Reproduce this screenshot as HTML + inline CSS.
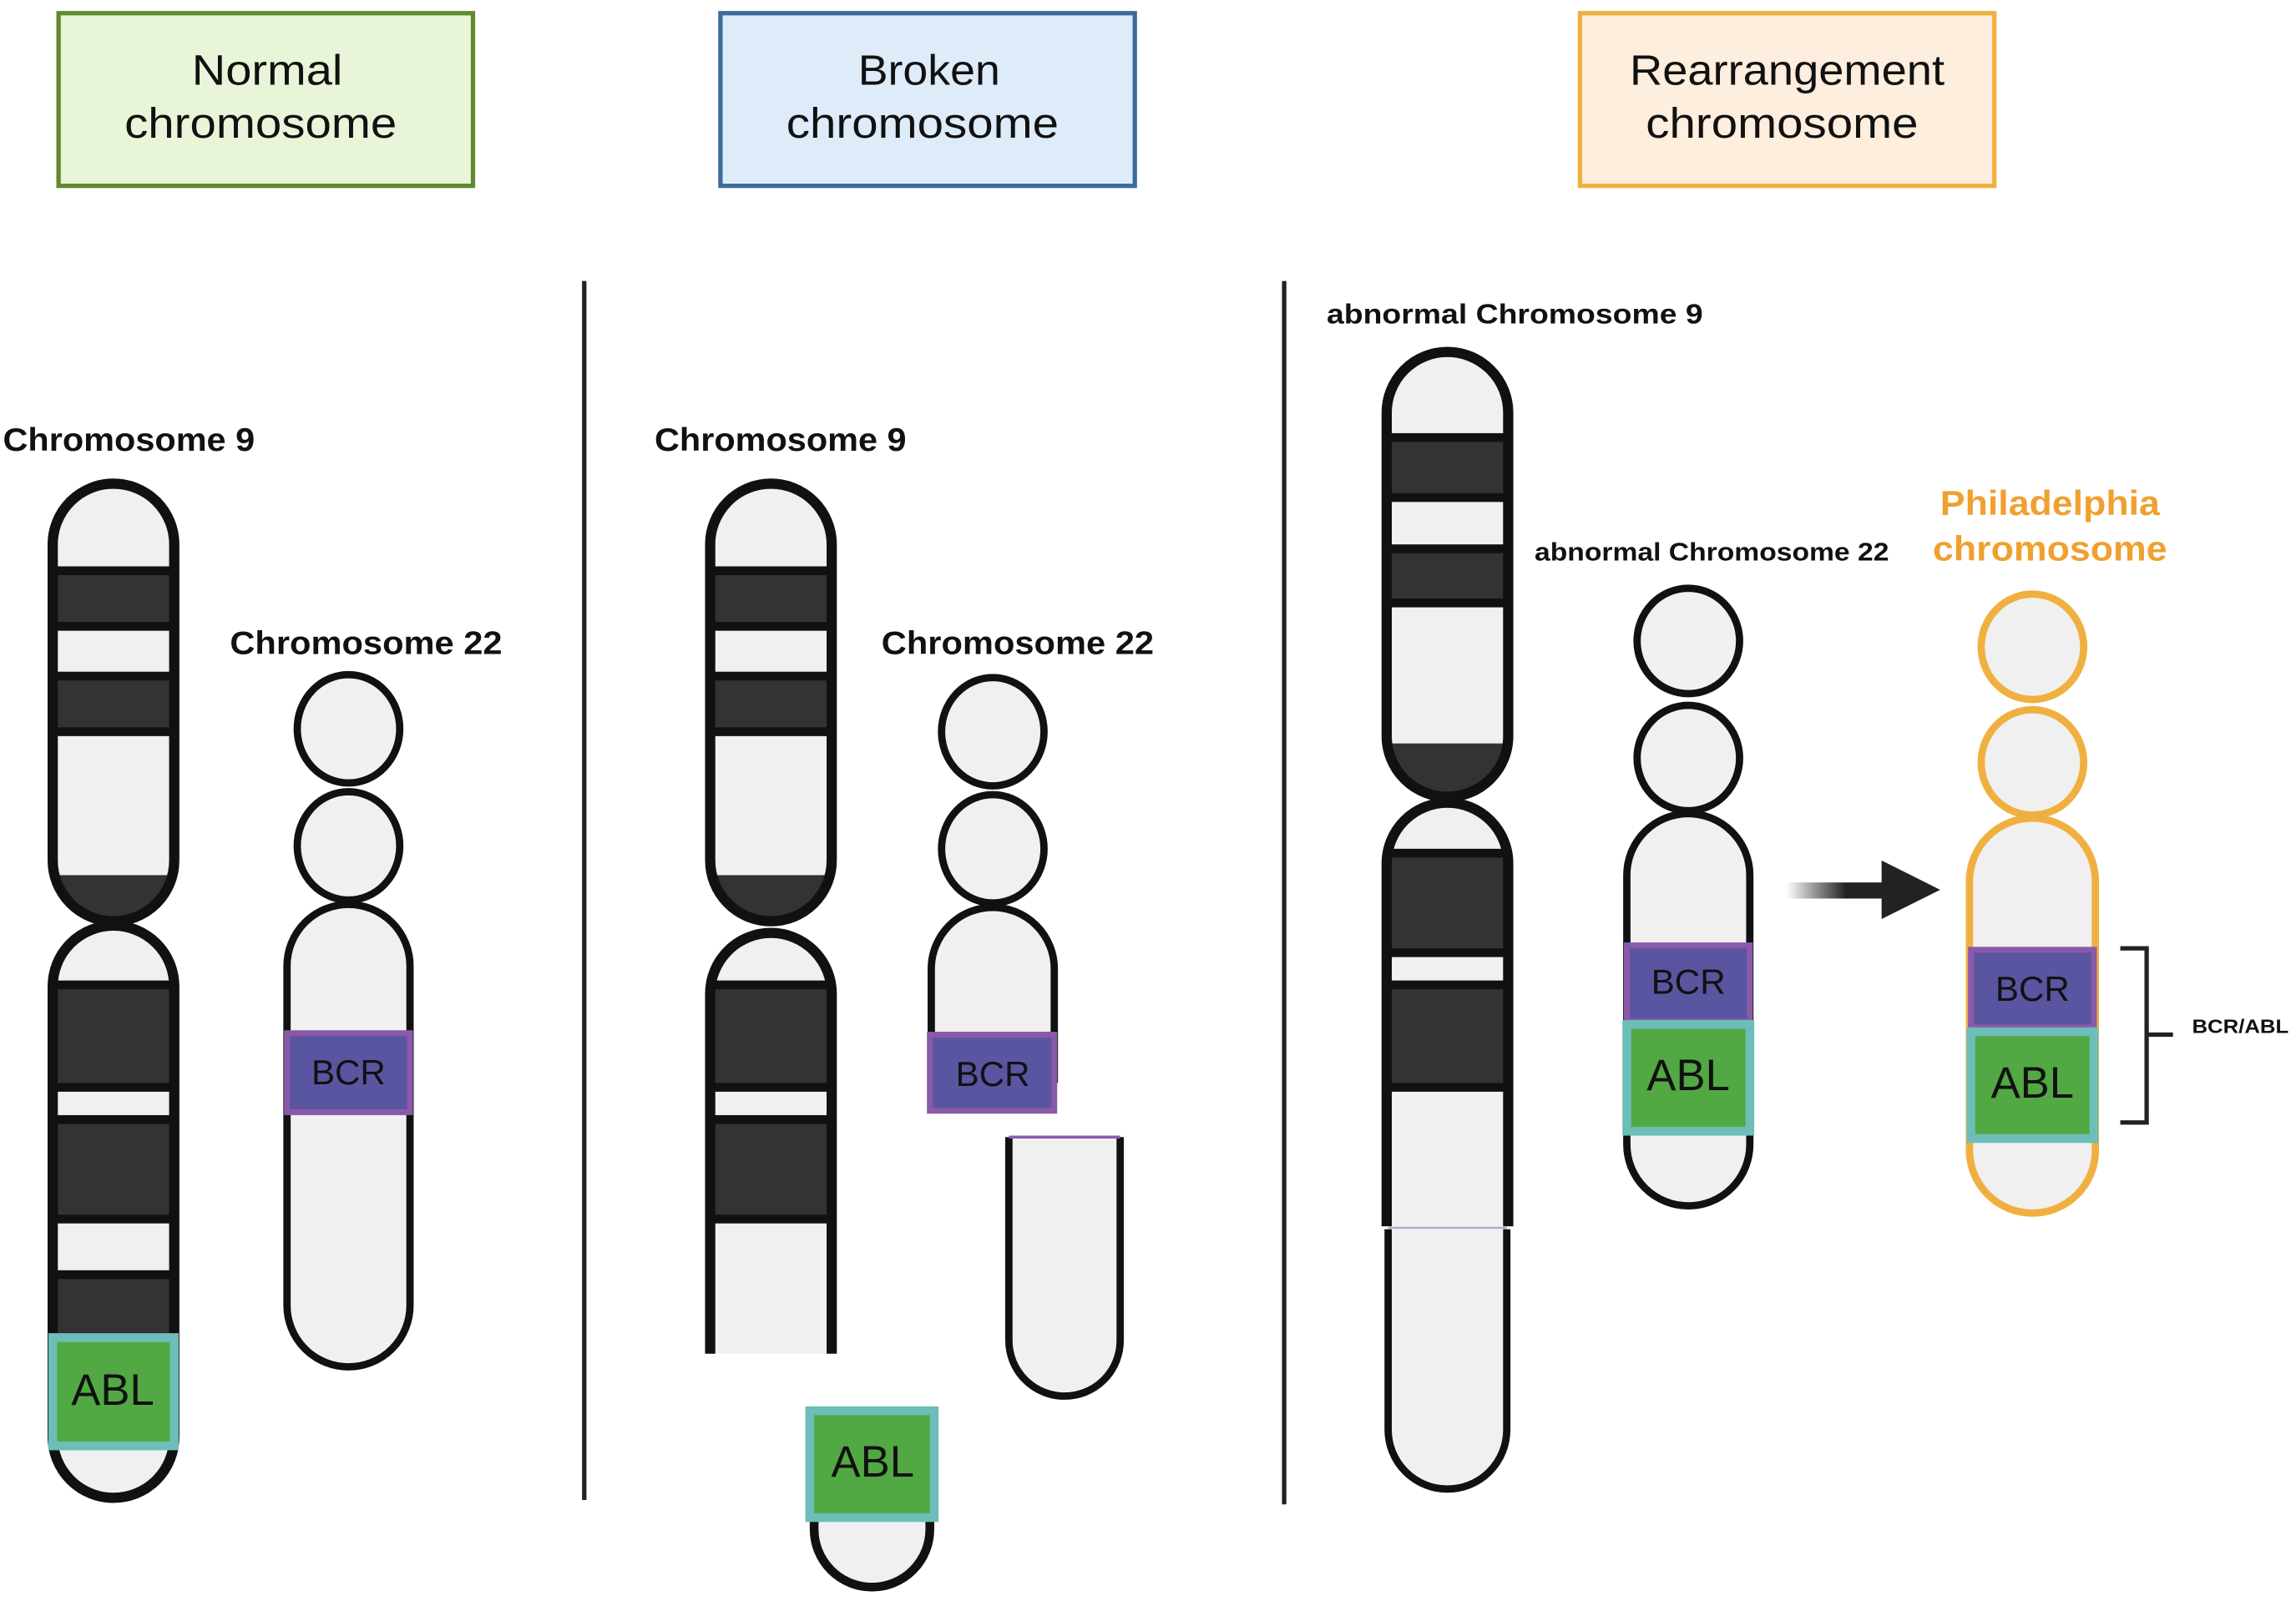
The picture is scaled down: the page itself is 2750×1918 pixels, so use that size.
<!DOCTYPE html>
<html><head><meta charset="utf-8"><style>
html,body{margin:0;padding:0;background:#fff;}
svg{display:block;}
text{font-family:"Liberation Sans",sans-serif;}
</style></head><body>
<svg width="2750" height="1918" viewBox="0 0 1568 1094" preserveAspectRatio="none" xmlns="http://www.w3.org/2000/svg">
<defs>
<linearGradient id="ag" x1="0" x2="1"><stop offset="0" stop-color="#222" stop-opacity="0"/><stop offset="0.6" stop-color="#222"/></linearGradient>
<clipPath id="c1"><path d="M36,372 A41.5,41.5 0 0 1 119,372 L119,588 A41.5,41.5 0 0 1 36,588 Z"/></clipPath>
<clipPath id="c2"><path d="M36,674 A41.5,41.5 0 0 1 119,674 L119,982 A41.5,41.5 0 0 1 36,982 Z"/></clipPath>
<clipPath id="c3"><path d="M485,372 A41.5,41.5 0 0 1 568,372 L568,588 A41.5,41.5 0 0 1 485,588 Z"/></clipPath>
<clipPath id="c4"><path d="M485,679 A41.5,41.5 0 0 1 568,679 L568,925 L485,925 Z"/></clipPath>
<clipPath id="c5"><path d="M947,282 A41.5,41.5 0 0 1 1030,282 L1030,503 A41.5,41.5 0 0 1 947,503 Z"/></clipPath>
<clipPath id="c6"><path d="M947,590 A41.5,41.5 0 0 1 1030,590 L1030,838 L947,838 Z"/></clipPath>
</defs>
<g stroke-width="3">
<rect x="40" y="9" width="283" height="118" fill="#e9f5d9" stroke="#5f8a2e"/>
<rect x="492" y="9" width="283" height="118" fill="#deebf8" stroke="#3d6a9c"/>
<rect x="1079" y="9" width="283" height="118" fill="#fdeedd" stroke="#f0b040"/>
</g>
<g font-size="29" fill="#111" lengthAdjust="spacingAndGlyphs">
<text x="131" y="58" textLength="103" lengthAdjust="spacingAndGlyphs">Normal</text><text x="85" y="94" textLength="186" lengthAdjust="spacingAndGlyphs">chromosome</text>
<text x="586" y="58" textLength="97" lengthAdjust="spacingAndGlyphs">Broken</text><text x="537" y="94" textLength="186" lengthAdjust="spacingAndGlyphs">chromosome</text>
<text x="1113" y="58" textLength="215" lengthAdjust="spacingAndGlyphs">Rearrangement</text><text x="1124" y="94" textLength="186" lengthAdjust="spacingAndGlyphs">chromosome</text>
</g>
<line x1="399" y1="192" x2="399" y2="1025" stroke="#222" stroke-width="3"/>
<line x1="877" y1="192" x2="877" y2="1028" stroke="#222" stroke-width="3"/>
<g font-weight="bold" fill="#111">
<text x="2" y="308" font-size="22" textLength="172" lengthAdjust="spacingAndGlyphs">Chromosome 9</text>
<text x="157" y="447" font-size="22" textLength="186" lengthAdjust="spacingAndGlyphs">Chromosome 22</text>
<text x="447" y="308" font-size="22" textLength="172" lengthAdjust="spacingAndGlyphs">Chromosome 9</text>
<text x="602" y="447" font-size="22" textLength="186" lengthAdjust="spacingAndGlyphs">Chromosome 22</text>
<text x="906" y="221" font-size="19" textLength="257" lengthAdjust="spacingAndGlyphs">abnormal Chromosome 9</text>
<text x="1048" y="383" font-size="17.5" textLength="242" lengthAdjust="spacingAndGlyphs">abnormal Chromosome 22</text>
<text x="1497" y="706" font-size="13" textLength="66" lengthAdjust="spacingAndGlyphs">BCR/ABL</text>
</g>
<g font-weight="bold" fill="#f0a030" font-size="24">
<text x="1325" y="352" textLength="150" lengthAdjust="spacingAndGlyphs">Philadelphia</text><text x="1320" y="383" textLength="160" lengthAdjust="spacingAndGlyphs">chromosome</text>
</g>

<!-- normal chr9 -->
<g clip-path="url(#c1)">
<rect x="30" y="320" width="100" height="320" fill="#f0f0f0"/>
<rect x="30" y="390" width="100" height="38" fill="#333" stroke="#111" stroke-width="6"/>
<rect x="30" y="462" width="100" height="38" fill="#333" stroke="#111" stroke-width="6"/>
<rect x="30" y="598" width="100" height="40" fill="#333"/>
</g>
<path d="M36,372 A41.5,41.5 0 0 1 119,372 L119,588 A41.5,41.5 0 0 1 36,588 Z" fill="none" stroke="#111" stroke-width="7"/>
<g clip-path="url(#c2)">
<rect x="30" y="625" width="100" height="410" fill="#f0f0f0"/>
<rect x="30" y="673" width="100" height="70" fill="#333" stroke="#111" stroke-width="6"/>
<rect x="30" y="765" width="100" height="68" fill="#333" stroke="#111" stroke-width="6"/>
<rect x="30" y="871" width="100" height="44" fill="#333" stroke="#111" stroke-width="6"/>
</g>
<path d="M36,674 A41.5,41.5 0 0 1 119,674 L119,982 A41.5,41.5 0 0 1 36,982 Z" fill="none" stroke="#111" stroke-width="7"/>
<rect x="36" y="914" width="83" height="74" fill="#52a843" stroke="#6dbdb8" stroke-width="6"/>
<text x="77" y="960" font-size="30" text-anchor="middle" fill="#111">ABL</text>

<!-- normal chr22 -->
<g fill="#f0f0f0" stroke="#111" stroke-width="5">
<ellipse cx="238" cy="498" rx="35" ry="37"/>
<ellipse cx="238" cy="578" rx="35" ry="37"/>
<path d="M196,660 A42,42 0 0 1 280,660 L280,892 A42,42 0 0 1 196,892 Z"/>
</g>
<rect x="196" y="706" width="84" height="54" fill="#5a55a0" stroke="#8a5aa8" stroke-width="4"/>
<text x="238" y="741" font-size="24" text-anchor="middle" fill="#111">BCR</text>

<!-- broken chr9 -->
<g clip-path="url(#c3)">
<rect x="480" y="320" width="100" height="320" fill="#f0f0f0"/>
<rect x="480" y="390" width="100" height="38" fill="#333" stroke="#111" stroke-width="6"/>
<rect x="480" y="462" width="100" height="38" fill="#333" stroke="#111" stroke-width="6"/>
<rect x="480" y="598" width="100" height="40" fill="#333"/>
</g>
<path d="M485,372 A41.5,41.5 0 0 1 568,372 L568,588 A41.5,41.5 0 0 1 485,588 Z" fill="none" stroke="#111" stroke-width="7"/>
<g clip-path="url(#c4)">
<rect x="480" y="630" width="100" height="300" fill="#f0f0f0"/>
<rect x="480" y="673" width="100" height="70" fill="#333" stroke="#111" stroke-width="6"/>
<rect x="480" y="765" width="100" height="68" fill="#333" stroke="#111" stroke-width="6"/>
</g>
<path d="M485,925 L485,679 A41.5,41.5 0 0 1 568,679 L568,925" fill="none" stroke="#111" stroke-width="7"/>
<!-- ABL fragment -->
<path d="M556,1000 L556,1045 A39.5,39.5 0 0 0 635,1045 L635,1000 Z" fill="#f0f0f0" stroke="#111" stroke-width="6"/>
<rect x="553" y="964" width="85" height="73" fill="#52a843" stroke="#6dbdb8" stroke-width="6"/>
<text x="596" y="1009" font-size="30" text-anchor="middle" fill="#111">ABL</text>
<!-- broken chr22 -->
<g fill="#f0f0f0" stroke="#111" stroke-width="5">
<ellipse cx="678" cy="500" rx="35" ry="37"/>
<ellipse cx="678" cy="580" rx="35" ry="37"/>
<path d="M636,740 L636,662 A42,42 0 0 1 720,662 L720,740"/>
<path d="M689,777 L689,916 A38,38 0 0 0 765,916 L765,777"/>
</g>
<line x1="689" y1="777" x2="765" y2="777" stroke="#8a5aa8" stroke-width="2"/>
<rect x="635" y="707" width="85" height="52" fill="#5a55a0" stroke="#8a5aa8" stroke-width="4"/>
<text x="678" y="742" font-size="24" text-anchor="middle" fill="#111">BCR</text>

<!-- abnormal chr9 -->
<g clip-path="url(#c5)">
<rect x="940" y="230" width="100" height="320" fill="#f0f0f0"/>
<rect x="940" y="299" width="100" height="41" fill="#333" stroke="#111" stroke-width="6"/>
<rect x="940" y="375" width="100" height="37" fill="#333" stroke="#111" stroke-width="6"/>
<rect x="940" y="508" width="100" height="40" fill="#333"/>
</g>
<path d="M947,282 A41.5,41.5 0 0 1 1030,282 L1030,503 A41.5,41.5 0 0 1 947,503 Z" fill="none" stroke="#111" stroke-width="7"/>
<g clip-path="url(#c6)">
<rect x="940" y="540" width="100" height="300" fill="#f0f0f0"/>
<rect x="940" y="583" width="100" height="68" fill="#333" stroke="#111" stroke-width="6"/>
<rect x="940" y="673" width="100" height="70" fill="#333" stroke="#111" stroke-width="6"/>
</g>
<path d="M947,838 L947,590 A41.5,41.5 0 0 1 1030,590 L1030,838" fill="none" stroke="#111" stroke-width="7"/>
<path d="M948,840 L948,977 A40.5,40.5 0 0 0 1029,977 L1029,840" fill="#f0f0f0" stroke="#111" stroke-width="5"/>
<line x1="948" y1="839" x2="1029" y2="839" stroke="#b8a8d0" stroke-width="1.5"/>

<!-- abnormal chr22 -->
<g fill="#f0f0f0" stroke="#111" stroke-width="5">
<ellipse cx="1153" cy="438" rx="35" ry="36"/>
<ellipse cx="1153" cy="518" rx="35" ry="36"/>
<path d="M1111,598 A42,42 0 0 1 1195,598 L1195,782 A42,42 0 0 1 1111,782 Z"/>
</g>
<rect x="1111" y="646" width="84" height="52" fill="#5a55a0" stroke="#8a5aa8" stroke-width="4"/>
<text x="1153" y="679" font-size="24" text-anchor="middle" fill="#111">BCR</text>
<rect x="1111" y="700" width="84" height="73" fill="#52a843" stroke="#6dbdb8" stroke-width="6"/>
<text x="1153" y="745" font-size="30" text-anchor="middle" fill="#111">ABL</text>

<!-- arrow -->
<rect x="1220" y="603" width="68" height="11" fill="url(#ag)"/>
<path d="M1285,588 L1325,608 L1285,628 Z" fill="#222"/>

<!-- philadelphia -->
<g fill="#f0f0f0" stroke="#f0b040" stroke-width="5">
<ellipse cx="1388" cy="442" rx="35" ry="36"/>
<ellipse cx="1388" cy="521" rx="35" ry="36"/>
<path d="M1345,602 A43,43 0 0 1 1431,602 L1431,786 A43,43 0 0 1 1345,786 Z"/>
</g>
<rect x="1346" y="649" width="84" height="53" fill="#5a55a0" stroke="#8a5aa8" stroke-width="4"/>
<text x="1388" y="684" font-size="24" text-anchor="middle" fill="#111">BCR</text>
<rect x="1346" y="705" width="84" height="73" fill="#52a843" stroke="#6dbdb8" stroke-width="6"/>
<text x="1388" y="750" font-size="30" text-anchor="middle" fill="#111">ABL</text>
<path d="M1448,648 L1466,648 L1466,767 L1448,767 M1466,707 L1484,707" fill="none" stroke="#222" stroke-width="3"/>
</svg>
</body></html>
